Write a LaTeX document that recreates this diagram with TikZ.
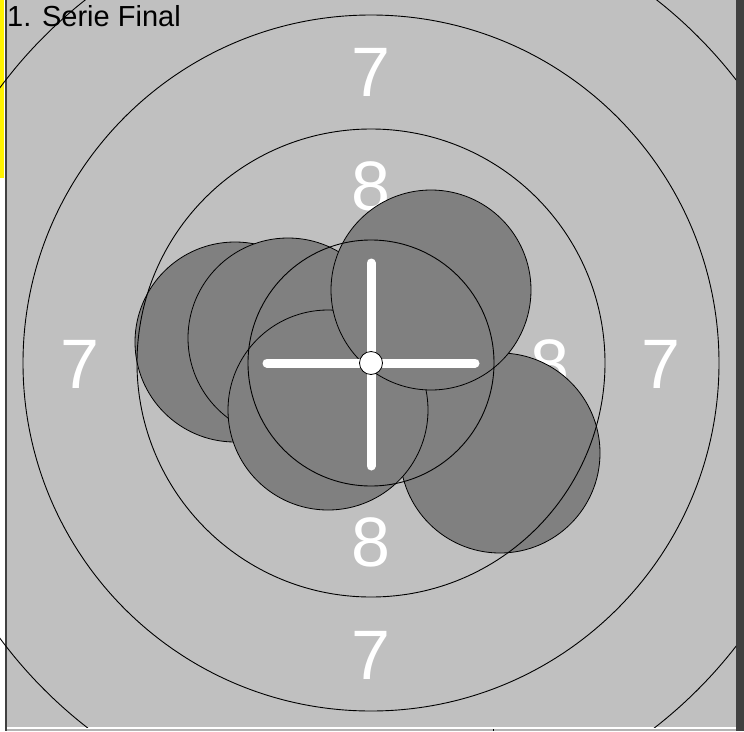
\documentclass[tikz,border=0pt]{standalone}
\usepackage{fontspec}
\setmainfont{Liberation Sans}
\usetikzlibrary{calc}
\definecolor{targetcolor}{RGB}{192, 192, 192}
\definecolor{shotcolor}  {RGB}{128, 128, 128}
\definecolor{framecolor} {RGB}{ 64,  64,  64}
\tikzset{
	ringline/.style={
		draw=black, line width=0.9pt
	},
	shot/.style={
		circle, draw=black, line width=0.8pt,
		fill=shotcolor, minimum size=200pt, inner sep=0pt
	},
	ringlabel/.style={
		text=white, inner sep=0pt,
		font=\fontsize{70}{70}\selectfont
	},
	crossbar/.style={
		white, line width=9pt, line cap=round
	}
}
\begin{document}
\begin{tikzpicture}[x=1pt, y=-1pt]
		\useasboundingbox (0,0) rectangle (744,731);
		
		%% ═══════════════════════════════
		%%  FRAME
		%% ═══════════════════════════════
		\fill[white] (0,0) rectangle (744,731);
		\fill[yellow] (0,0) rectangle (4,178);
		\fill[targetcolor] (7,0) rectangle (736,727);
		\fill[framecolor] (736,0) rectangle (744,731);
		\fill[black!75] (5,0) rectangle (7,731);
		\fill[shotcolor!60] (7,729) rectangle (736,731);
		\draw[black, line width=1pt] (493,729) -- (493,731);
		
		\coordinate (ctr) at (371,363);
		
		%% ═══════════════════════════════
		%%  RING NUMBERS
		%% ═══════════════════════════════
		\node[ringlabel] (sevenN) at (371,72)  {7};
		\node[ringlabel] (sevenS) at (371,655) {7};
		\node[ringlabel] (sevenW) at (80,364)  {7};
		\node[ringlabel] (sevenE) at (661,364) {7};
		\node[ringlabel] (eightN) at (371,186) {8};
		\node[ringlabel] (eightS) at (371,542) {8};
		\node[ringlabel] (eightE) at (550,364) {8};
		
		%% ═══════════════════════════════
		%%  SHOTS
		%% ═══════════════════════════════
		\node[shot] (shot1) at (235,342) {};
		\node[shot] (shot2) at (288,338) {};
		\node[shot] (shot5) at (500,453) {};
		\node[shot] (shot3) at (328,410) {};
		\node[shot] (shot4) at (431,290) {};
		
		%% ═══════════════════════════════
		%%  RINGS (over the shots)
		%% ═══════════════════════════════
		\begin{scope}
			\clip (0,0) rectangle (736,727);
			\foreach \r in {123,234,348,462}
			\draw[ringline] (ctr) circle[radius=\r pt];
		\end{scope}
		
		%% ═══════════════════════════════
		%%  CROSSHAIR
		%% ═══════════════════════════════
		\draw[crossbar] ([xshift=-104pt]ctr) -- ([xshift=104pt]ctr);
		\draw[crossbar] ([yshift=100pt]ctr) -- ([yshift=-103pt]ctr);
		\node[circle, draw=black, fill=white, line width=0.8pt,
		minimum size=23pt, inner sep=0pt] (aim) at (ctr) {};
		
		%% ═══════════════════════════════
		%%  TITLE
		%% ═══════════════════════════════
		\node[anchor=base west, inner sep=0pt,
		font=\fontsize{29}{29}\selectfont] (title) at (7,26) {1. Serie Final};
	\end{tikzpicture}
\end{document}
